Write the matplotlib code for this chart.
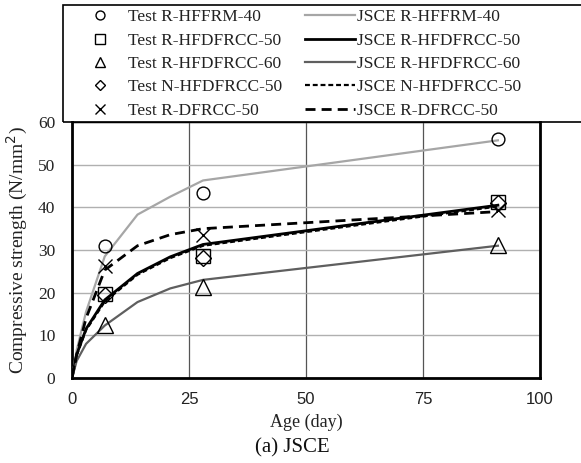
#!/usr/bin/env python
# -*- coding: utf-8 -*-

"""Compressive strength vs age, test data against JSCE prediction."""

import matplotlib.pyplot as plt
from matplotlib.lines import Line2D
from matplotlib.patches import Rectangle

test_age = [7, 28, 91]
test_hffrm40 = [30.9, 43.4, 56.0]
test_hfdfrcc50 = [19.8, 28.7, 41.3]
test_hfdfrcc60 = [12.4, 21.4, 31.2]
test_n_hfdfrcc50 = [19.4, 28.2, 40.9]
test_dfrcc50 = [26.2, 33.5, 39.4]

jsce_age = [0, 1, 3, 7, 14, 21, 28, 91]
jsce_hffrm40 = [0, 6.5, 15.5, 28.5, 38.3, 42.5, 46.3, 55.7]
jsce_hfdfrcc50 = [0, 5.5, 11.5, 18.3, 24.5, 28.4, 31.3, 40.5]
jsce_hfdfrcc60 = [0, 4.0, 8.0, 12.3, 17.8, 21.0, 23.0, 31.0]
jsce_n_hfdfrcc50 = [0, 5.3, 11.2, 17.9, 24.2, 28.1, 31.0, 40.2]
jsce_dfrcc50 = [0, 5.5, 14.0, 25.3, 31.0, 33.6, 35.0, 39.0]

test_labels = ["Test R-HFFRM-40", "Test R-HFDFRCC-50", "Test R-HFDFRCC-60",
               "Test N-HFDFRCC-50", "Test R-DFRCC-50"]
jsce_labels = ["JSCE R-HFFRM-40", "JSCE R-HFDFRCC-50", "JSCE R-HFDFRCC-60",
               "JSCE N-HFDFRCC-50", "JSCE R-DFRCC-50"]

SERIF = ["Liberation Serif", "DejaVu Serif"]
SANS = ["Liberation Sans", "DejaVu Sans"]
LIGHT = "#a6a6a6"
DARK = "#5f5f5f"
TXT = "#222222"
W, H = 581, 463


def main():
    fig = plt.figure(figsize=(W / 100, H / 100), dpi=100)
    ax = fig.add_axes([72 / W, 85 / H, 468 / W, 256 / H])

    line_styles = [
        dict(color=LIGHT, lw=1.6, ls="-"),
        dict(color="black", lw=2.0, ls="-"),
        dict(color=DARK, lw=1.6, ls="-"),
        dict(color="black", lw=1.6, ls=(0, (2.2, 1.3))),
        dict(color="black", lw=2.0, ls=(0, (3.6, 2.2))),
    ]
    jsce = [jsce_hffrm40, jsce_hfdfrcc50, jsce_hfdfrcc60, jsce_n_hfdfrcc50, jsce_dfrcc50]
    tests = [test_hffrm40, test_hfdfrcc50, test_hfdfrcc60, test_n_hfdfrcc50, test_dfrcc50]
    markers = ["o", "s", "^", "D", "x"]
    msizes = [9.2, 9.5, 11, 8.0, 10.5]

    line_handles = []
    for vals, st in zip(jsce, line_styles):
        ax.plot(jsce_age, vals, zorder=3, **st)
        line_handles.append(Line2D([], [], **st))

    marker_handles = []
    for vals, m, ms in zip(tests, markers, msizes):
        ax.plot(test_age, vals, ls="none", marker=m, ms=ms, mfc="none",
                mec="black", mew=1.0, zorder=4)
        marker_handles.append(Line2D([], [], ls="none", marker=m, ms=ms * 0.7,
                                     mfc="none", mec="black", mew=1.0))

    ax.set_xlim(0, 100)
    ax.set_ylim(0, 60)
    ax.set_xticks([0, 25, 50, 75, 100])
    ax.set_yticks(range(0, 61, 10))
    ax.yaxis.grid(True, color="#b0b0b0", lw=1.0)
    ax.xaxis.grid(True, color="#555555", lw=0.9)
    ax.set_axisbelow(True)
    ax.tick_params(length=0)
    ax.tick_params(axis="y", pad=12)
    ax.tick_params(axis="x", pad=10)
    for t in ax.get_yticklabels():
        t.set_family(SERIF)
        t.set_fontsize(12.5)
        t.set_color(TXT)
    for t in ax.get_xticklabels():
        t.set_family(SANS)
        t.set_fontsize(12)
        t.set_color(TXT)
    for side in ["left", "bottom", "right"]:
        ax.spines[side].set_linewidth(2.0)
    ax.spines["top"].set_linewidth(1.0)

    ax.set_ylabel("Compressive strength (N/mm$^2$)", family=SERIF, fontsize=14,
                  color=TXT, labelpad=6)
    ax.set_xlabel("Age (day)", family=SERIF, fontsize=13, color=TXT, labelpad=5)
    fig.text(292 / W, 1 - 448 / H, "(a) JSCE", family=SERIF, fontsize=15,
             ha="center", va="center", color="#111111")

    # legend box runs past the right edge of the figure
    fig.patches.append(Rectangle((63 / W, 1 - 122 / H), 560 / W, 117 / H,
                                 transform=fig.transFigure, fill=False,
                                 ec="black", lw=1.2, clip_on=False))

    common = dict(loc="upper left", frameon=False, borderpad=0, borderaxespad=0,
                  prop={"family": SERIF, "size": 12.5}, labelspacing=0.42)
    leg1 = fig.legend(marker_handles, test_labels,
                      bbox_to_anchor=(83 / W, 1 - 9 / H),
                      handlelength=2.0, handletextpad=0.62, **common)
    leg2 = fig.legend(line_handles, jsce_labels,
                      bbox_to_anchor=(305 / W, 1 - 9 / H),
                      handlelength=2.87, handletextpad=0.1, **common)
    for leg in (leg1, leg2):
        for t in leg.get_texts():
            t.set_color(TXT)

    fig.savefig("out.png", dpi=100)
    plt.close()


if __name__ == "__main__":
    main()
